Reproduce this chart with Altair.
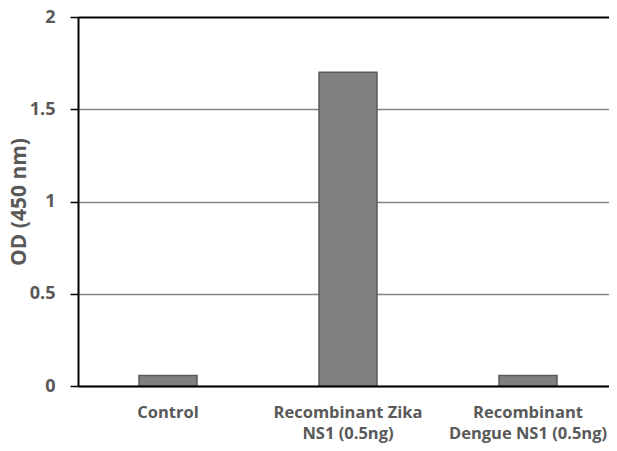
import altair as alt
import pandas as pd

categories = ["Control", "Recombinant Zika\nNS1 (0.5ng)", "Recombinant\nDengue NS1 (0.5ng)"]
values = [0.057, 1.70, 0.057]
y_ticks = [0, 0.5, 1, 1.5, 2]

df = pd.DataFrame({"cat": categories, "od": values})

FONT = "Open Sans"
LABEL = "#595959"

chart = alt.Chart(df).mark_bar(
    color="#808080", stroke="#5a5a5a", strokeWidth=1.5
).encode(
    x=alt.X(
        "cat:N", sort=None,
        scale=alt.Scale(range=[0, 540], paddingInner=0.678, paddingOuter=0.339),
        axis=alt.Axis(
            title=None, labelAngle=0, ticks=False,
            labelExpr="split(datum.label, '\\n')",
            labelFont=FONT, labelFontWeight="bold", labelFontSize=16.5,
            labelColor=LABEL, labelPadding=18, labelLineHeight=21,
            labelBaseline="top",
            domainColor="black", domainWidth=2, zindex=1,
        ),
    ),
    y=alt.Y(
        "od:Q",
        scale=alt.Scale(domain=[0, 2], nice=False),
        axis=alt.Axis(
            title="OD (450 nm)", values=y_ticks, format="~g",
            labelFont=FONT, labelFontWeight="bold", labelFontSize=18,
            labelColor=LABEL, labelPadding=15,
            tickColor="black", tickSize=8, tickWidth=1.5,
            domainColor="black", domainWidth=2,
            gridColor={"condition": {"test": "datum.value === 2", "value": "black"}, "value": "#868686"},
            gridWidth={"condition": {"test": "datum.value === 2", "value": 2}, "value": 1.3},
            titleFont=FONT, titleFontWeight="bold", titleFontSize=21,
            titleColor=LABEL, titlePadding=0,
        ),
    ),
).properties(
    width=530, height=369,
    autosize=alt.AutoSizeParams(type="none"),
    padding={"left": 70, "top": 9, "right": 1, "bottom": 59},
).configure_view(stroke=None)

chart.save("out.html", embed_options={"renderer": "svg", "actions": False})
